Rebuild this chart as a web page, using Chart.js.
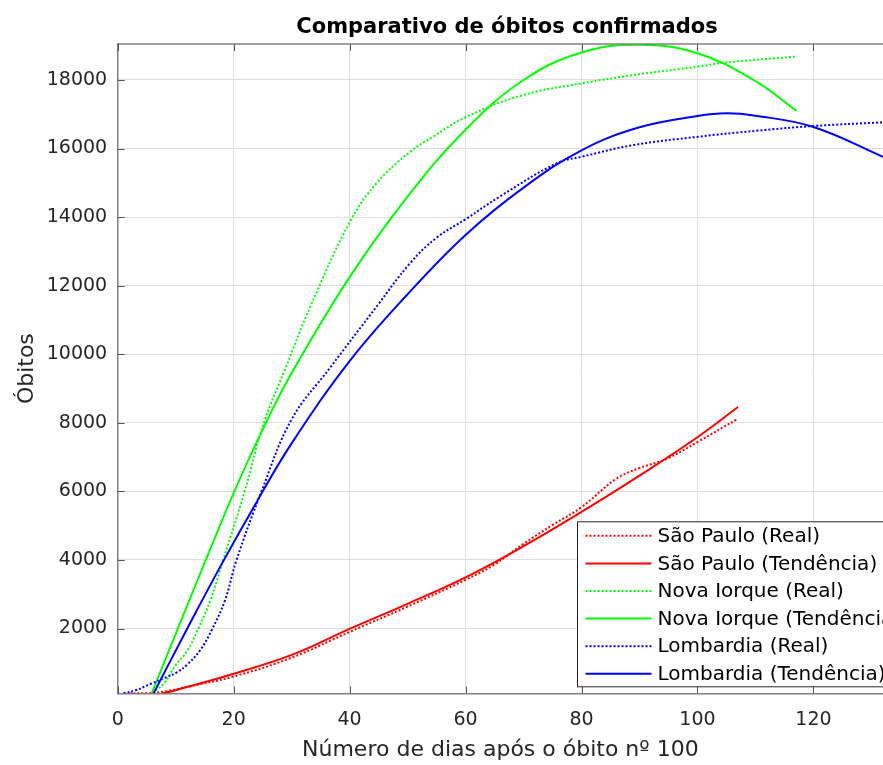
<!DOCTYPE html>
<html>
<head>
<meta charset="utf-8">
<script src="https://cdn.jsdelivr.net/npm/chart.js@4.4.0/dist/chart.umd.min.js"></script>
<style>
  body { margin: 0; background: #fff; }
  canvas { display: block; }
</style>
</head>
<body>
<canvas id="obitosChart" width="883" height="765"></canvas>
<script>
const chartTitle = "Comparativo de óbitos confirmados";
const xTitle = "Número de dias após o óbito nº 100";
const yTitle = "Óbitos";

const xTicks = [0, 20, 40, 60, 80, 100, 120];
const yTicks = [2000, 4000, 6000, 8000, 10000, 12000, 14000, 16000, 18000];

// São Paulo
const spRealDays = [2, 5, 8, 12, 20, 30, 40, 50, 60, 65, 70, 75, 80, 86, 90, 94.7, 100, 107];
const spRealValues = [105, 115, 160, 300, 600, 1150, 1900, 2640, 3420, 3870, 4470, 5020, 5540, 6370, 6680, 6950, 7440, 8120];
const spTrendDays = [7.8, 10, 20, 30, 40, 50, 60, 70, 80, 90, 100, 107];
const spTrendValues = [110, 200, 680, 1230, 1990, 2720, 3490, 4400, 5400, 6460, 7580, 8460];

// Nova Iorque
const nyRealDays = [6, 8, 10, 12, 13.9, 16, 18.2, 21.9, 25.2, 28.8, 33.2, 40.1, 44.7, 50.4, 54.4, 60.2, 69.9, 80, 90, 100.1, 104.4, 116.8];
const nyRealValues = [120, 400, 930, 1350, 2000, 2830, 4000, 6000, 8000, 9530, 11380, 13880, 15000, 15900, 16345, 16930, 17560, 17900, 18170, 18390, 18500, 18680];
const nyTrendDays = [5.9, 10.5, 15.2, 20, 25, 30, 40, 50, 60, 70, 80, 90, 100, 110, 117.1];
const nyTrendValues = [120, 2050, 4000, 5950, 7800, 9450, 12250, 14600, 16550, 18000, 18800, 19030, 18780, 17970, 17100];

// Lombardia
const lbRealDays = [1, 3, 5.6, 8, 10.2, 12, 14.2, 16.2, 18.5, 20.5, 24.8, 30, 36.6, 44.7, 50.4, 55, 60.2, 65.9, 75.7, 80, 88.9, 100.1, 110.2, 120.2, 132];
const lbRealValues = [110, 190, 380, 550, 720, 950, 1360, 1950, 2820, 4000, 6000, 8100, 9600, 11400, 12650, 13400, 13960, 14600, 15570, 15760, 16100, 16345, 16520, 16660, 16765];
const lbTrendDays = [6.2, 12, 18, 24, 30, 40, 50, 60, 70, 80, 90, 100, 105, 110, 120, 132];
const lbTrendValues = [110, 2000, 3900, 5700, 7400, 9800, 11750, 13480, 14860, 15950, 16620, 16950, 17030, 16960, 16630, 15760];

const labels = [
  "São Paulo (Real)", "São Paulo (Tendência)",
  "Nova Iorque (Real)", "Nova Iorque (Tendência)",
  "Lombardia (Real)", "Lombardia (Tendência)"
];
const colors = ["#ff0000", "#ff0000", "#00ff00", "#00ff00", "#0000ff", "#0000ff"];
const dotted = [true, false, true, false, true, false];

const FONT = "'DejaVu Sans', sans-serif";

function toPoints(days, values) {
  return days.map((d, i) => ({ x: d, y: values[i] }));
}

const seriesPoints = [
  toPoints(spRealDays, spRealValues),
  toPoints(spTrendDays, spTrendValues),
  toPoints(nyRealDays, nyRealValues),
  toPoints(nyTrendDays, nyTrendValues),
  toPoints(lbRealDays, lbRealValues),
  toPoints(lbTrendDays, lbTrendValues)
];

const datasets = seriesPoints.map((pts, i) => ({
  label: labels[i],
  data: pts,
  borderColor: colors[i],
  backgroundColor: colors[i],
  borderWidth: 2,
  borderDash: dotted[i] ? [2, 2] : [],
  pointRadius: 0,
  fill: false,
  tension: 0.4,
  order: labels.length - i
}));

// title, top border, inward ticks
const framePlugin = {
  id: "frame",
  afterDraw(chart) {
    const ctx = chart.ctx;
    const area = chart.chartArea;
    const xs = chart.scales.x;
    const ys = chart.scales.y;
    ctx.save();
    ctx.strokeStyle = "#808080";
    ctx.lineWidth = 1.5;
    ctx.beginPath();
    ctx.moveTo(area.left, area.top);
    ctx.lineTo(area.right, area.top);
    ctx.stroke();

    ctx.strokeStyle = "#555";
    ctx.lineWidth = 1;
    ctx.beginPath();
    xTicks.forEach(v => {
      const px = Math.round(xs.getPixelForValue(v)) + 0.5;
      ctx.moveTo(px, area.bottom);
      ctx.lineTo(px, area.bottom - 7);
      ctx.moveTo(px, area.top);
      ctx.lineTo(px, area.top + 7);
    });
    yTicks.forEach(v => {
      const py = Math.round(ys.getPixelForValue(v)) + 0.5;
      ctx.moveTo(area.left, py);
      ctx.lineTo(area.left + 7, py);
    });
    ctx.stroke();

    ctx.fillStyle = "#000";
    ctx.font = "bold 21px " + FONT;
    ctx.textAlign = "center";
    ctx.textBaseline = "alphabetic";
    ctx.fillText(chartTitle, 507, 33);
    ctx.restore();
  }
};

// legend box in the lower right corner
const legendPlugin = {
  id: "boxLegend",
  afterDraw(chart) {
    const ctx = chart.ctx;
    const area = chart.chartArea;
    const left = area.right - 305.5;
    const top = area.bottom - 171.5;
    const bottom = area.bottom - 6.5;
    const rowH = 27.6;
    ctx.save();
    ctx.fillStyle = "#fff";
    ctx.fillRect(left, top, area.right - left + 5, bottom - top);
    ctx.strokeStyle = "#262626";
    ctx.lineWidth = 1;
    ctx.strokeRect(left, top, area.right - left + 10, bottom - top);
    ctx.font = "20px " + FONT;
    ctx.textBaseline = "middle";
    ctx.textAlign = "left";
    chart.data.datasets.forEach((ds, i) => {
      const y = top + 14 + i * rowH;
      ctx.strokeStyle = ds.borderColor;
      ctx.lineWidth = 2;
      ctx.setLineDash(ds.borderDash);
      ctx.beginPath();
      ctx.moveTo(left + 8, y);
      ctx.lineTo(left + 74, y);
      ctx.stroke();
      ctx.setLineDash([]);
      ctx.fillStyle = "#000";
      ctx.fillText(ds.label, left + 80, y + 1);
    });
    ctx.restore();
  }
};

new Chart(document.getElementById("obitosChart").getContext("2d"), {
  type: "line",
  data: { datasets: datasets },
  options: {
    responsive: false,
    animation: false,
    layout: { padding: { top: 44, right: 0, bottom: 0, left: 0 } },
    plugins: {
      legend: { display: false },
      title: { display: false },
      tooltip: { enabled: false }
    },
    scales: {
      x: {
        type: "linear",
        min: 0,
        max: 132,
        afterBuildTicks: s => { s.ticks = xTicks.map(v => ({ value: v })); },
        afterFit: s => { s.height = 71.7; },
        ticks: {
          font: { family: FONT, size: 19 },
          color: "#262626",
          padding: 15,
          maxRotation: 0,
          autoSkip: false,
          callback: v => String(v)
        },
        grid: { color: "#dedede", lineWidth: 1, drawTicks: false },
        border: { color: "#808080", width: 1.5 },
        title: {
          display: true,
          text: xTitle,
          font: { family: FONT, size: 22 },
          color: "#262626",
          padding: { top: 0, bottom: 2 }
        }
      },
      y: {
        type: "linear",
        min: 110,
        max: 19050,
        afterBuildTicks: s => { s.ticks = yTicks.map(v => ({ value: v })); },
        afterFit: s => { s.width = 117.7; },
        ticks: {
          font: { family: FONT, size: 19 },
          color: "#262626",
          padding: 10.5,
          callback: v => String(v)
        },
        grid: { color: "#dedede", lineWidth: 1, drawTicks: false },
        border: { color: "#808080", width: 1.5 },
        title: {
          display: true,
          text: yTitle,
          font: { family: FONT, size: 22 },
          color: "#262626",
          padding: { top: 14, bottom: 0 }
        }
      }
    }
  },
  plugins: [framePlugin, legendPlugin]
});
</script>
</body>
</html>
